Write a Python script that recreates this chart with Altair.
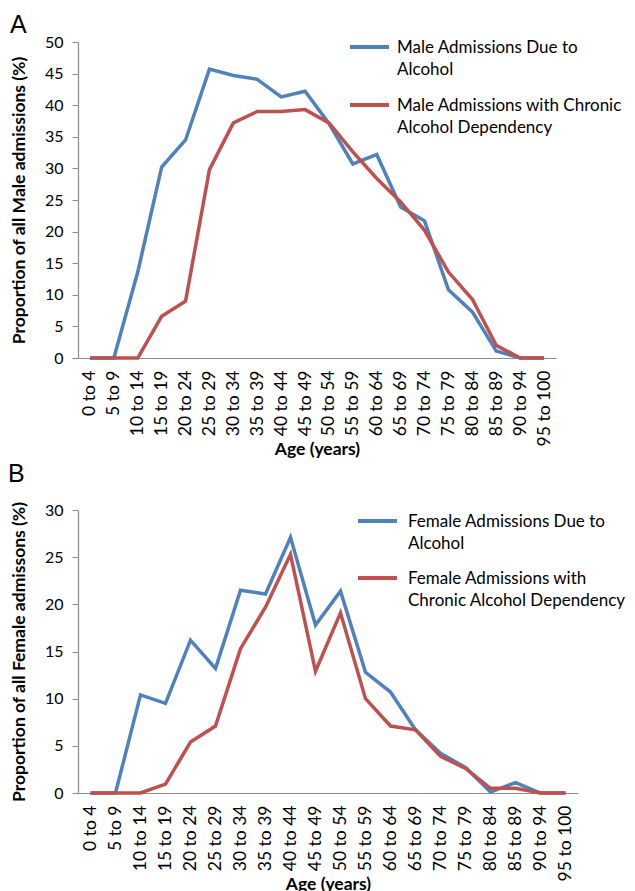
import altair as alt
import pandas as pd

ages = ["0 to 4", "5 to 9", "10 to 14", "15 to 19", "20 to 24", "25 to 29",
        "30 to 34", "35 to 39", "40 to 44", "45 to 49", "50 to 54", "55 to 59",
        "60 to 64", "65 to 69", "70 to 74", "75 to 79", "80 to 84", "85 to 89",
        "90 to 94", "95 to 100"]

male_due = [0, 0, 13.6, 30.2, 34.5, 45.7, 44.7, 44.1, 41.3, 42.2,
            37.1, 30.7, 32.2, 23.9, 21.7, 10.8, 7.3, 1.1, 0, 0]
male_chronic = [0, 0, 0, 6.6, 9.0, 29.8, 37.2, 39.0, 39.0, 39.3,
                37.2, 32.6, 28.4, 24.7, 20.2, 13.6, 9.3, 2.0, 0, 0]
female_due = [0, 0, 10.4, 9.5, 16.2, 13.2, 21.5, 21.1, 27.1, 17.8,
              21.4, 12.8, 10.7, 6.7, 4.2, 2.7, 0.1, 1.1, 0, 0]
female_chronic = [0, 0, 0, 0.95, 5.4, 7.1, 15.3, 19.7, 25.3, 12.9,
                  19.1, 10.0, 7.1, 6.7, 3.9, 2.6, 0.5, 0.5, 0, 0]

male_series = ["Male Admissions Due to Alcohol",
               "Male Admissions with Chronic Alcohol Dependency"]
male_legend = ["Male Admissions Due to\nAlcohol",
               "Male Admissions with Chronic\nAlcohol Dependency"]
female_series = ["Female Admissions Due to Alcohol",
                 "Female Admissions with Chronic Alcohol Dependency"]
female_legend = ["Female Admissions Due to\nAlcohol",
                 "Female Admissions with\nChronic Alcohol Dependency"]

colors = ["#4F81BD", "#C0504D"]
FONT = "Lato"


def panel(due, chronic, series, legend_text, ymax, width, height, ytitle,
          letter, letter_xy, leg):
    df = pd.DataFrame({
        "age": ages + ages,
        "value": due + chronic,
        "series": [series[0]] * len(ages) + [series[1]] * len(ages),
    })
    lines = alt.Chart(df).mark_line(strokeWidth=3.5).encode(
        x=alt.X("age:N", sort=ages,
                scale=alt.Scale(type="point", padding=0.5),
                axis=alt.Axis(title="Age (years)", labelAngle=270,
                              ticks=False, labelPadding=12,
                              labelFontSize=17.5, titleY=82,
                              titleBaseline="top")),
        y=alt.Y("value:Q", scale=alt.Scale(domain=[0, ymax], nice=False),
                axis=alt.Axis(values=list(range(0, ymax + 1, 5)),
                              title=ytitle, grid=False, tickSize=6,
                              labelPadding=9, titlePadding=16)),
        color=alt.Color("series:N", scale=alt.Scale(domain=series, range=colors),
                        legend=None),
        detail="series:N",
    )
    one = pd.DataFrame({"k": [0]})
    layers = [lines]
    lx0, lx1, tx, ys = leg
    for i in range(2):
        layers.append(
            alt.Chart(one).mark_rule(color=colors[i], strokeWidth=4).encode(
                x=alt.value(lx0), x2=alt.value(lx1), y=alt.value(ys[i])))
        layers.append(
            alt.Chart(one).mark_text(align="left", baseline="alphabetic",
                                     font=FONT, fontSize=17, lineHeight=22,
                                     lineBreak="\n", color="black").encode(
                x=alt.value(tx), y=alt.value(ys[i] + 6),
                text=alt.value(legend_text[i])))
    layers.append(
        alt.Chart(one).mark_text(align="left", baseline="alphabetic",
                                 font="Liberation Sans", fontSize=25,
                                 color="black").encode(
            x=alt.value(letter_xy[0]), y=alt.value(letter_xy[1]),
            text=alt.value(letter)))
    return alt.layer(*layers).properties(width=width, height=height)


top = panel(male_due, male_chronic, male_series, male_legend, 50, 478, 316,
            "Proportion of all Male admissions (%)", "A", (-68, -9),
            (272, 311, 319, [5, 63]))
bottom = panel(female_due, female_chronic, female_series, female_legend, 30, 500, 283,
               "Proportion of all Female admissons (%)", "B", (-70, -28),
               (280, 319, 330, [11, 68]))

chart = alt.vconcat(top, bottom, spacing=4).properties(
    padding={"left": 0, "top": 5, "right": 0, "bottom": 0}
).configure_view(stroke=None).configure_axis(
    domainColor="#8c8c8c", tickColor="#8c8c8c", labelColor="black",
    labelFont=FONT, labelFontSize=16, titleFont=FONT, titleFontSize=17.5,
    titleFontWeight="bold", titleColor="black", domainWidth=1.2
)

chart.save("out.html", embed_options={"renderer": "svg", "actions": False})
